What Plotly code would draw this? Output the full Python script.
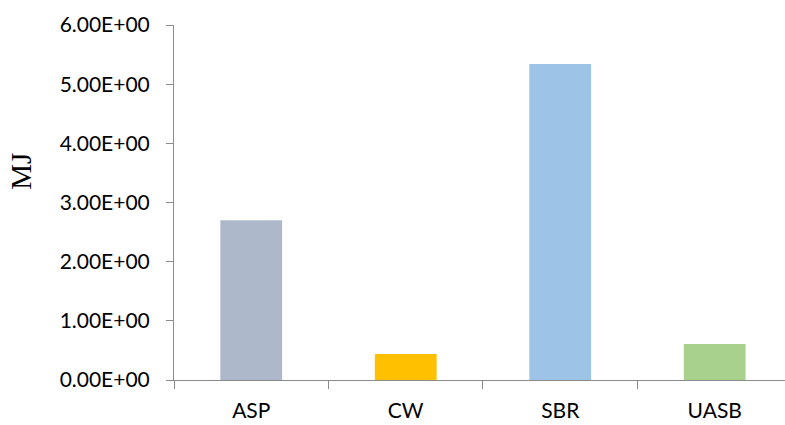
import plotly.graph_objects as go

categories = ["ASP", "CW", "SBR", "UASB"]
values = [2.70, 0.44, 5.34, 0.61]
bar_colors = ["#ADB9CA", "#FFC000", "#9DC3E6", "#A9D18E"]
y_tick_vals = [0, 1, 2, 3, 4, 5, 6]
y_tick_text = ["0.00E+00", "1.00E+00", "2.00E+00", "3.00E+00", "4.00E+00", "5.00E+00", "6.00E+00"]
y_title = "MJ"

fig = go.Figure(
    go.Bar(
        x=categories,
        y=values,
        marker=dict(color=bar_colors, line=dict(width=0)),
        width=0.4,
    )
)

axis_color = "#8C8C8C"
tick_font = dict(family="Lato, Liberation Sans, sans-serif", size=21, color="#000000")
fig.update_layout(
    width=785,
    height=425,
    margin=dict(l=174, r=0, t=25, b=45),
    paper_bgcolor="white",
    plot_bgcolor="white",
    showlegend=False,
    font=tick_font,
)
fig.update_xaxes(
    type="category",
    range=[-0.5, 3.455],
    showline=True,
    linecolor=axis_color,
    linewidth=1,
    ticks="outside",
    tickson="boundaries",
    ticklen=8,
    tickcolor=axis_color,
    showgrid=False,
    zeroline=False,
    ticklabelstandoff=12,
    tickfont=tick_font,
)
fig.update_yaxes(
    range=[0, 6],
    tickvals=y_tick_vals,
    ticktext=y_tick_text,
    showline=True,
    linecolor=axis_color,
    linewidth=1,
    ticks="outside",
    ticklen=7,
    tickcolor=axis_color,
    showgrid=False,
    zeroline=False,
    ticklabelstandoff=12,
    tickfont=tick_font,
)
fig.add_annotation(
    text=y_title,
    textangle=-90,
    xref="paper",
    yref="y",
    x=0,
    xshift=-153,
    y=3.52,
    showarrow=False,
    xanchor="center",
    yanchor="middle",
    font=dict(family="Liberation Serif, Times New Roman, serif", size=29, color="#000000"),
)

fig.write_html("out.html")
